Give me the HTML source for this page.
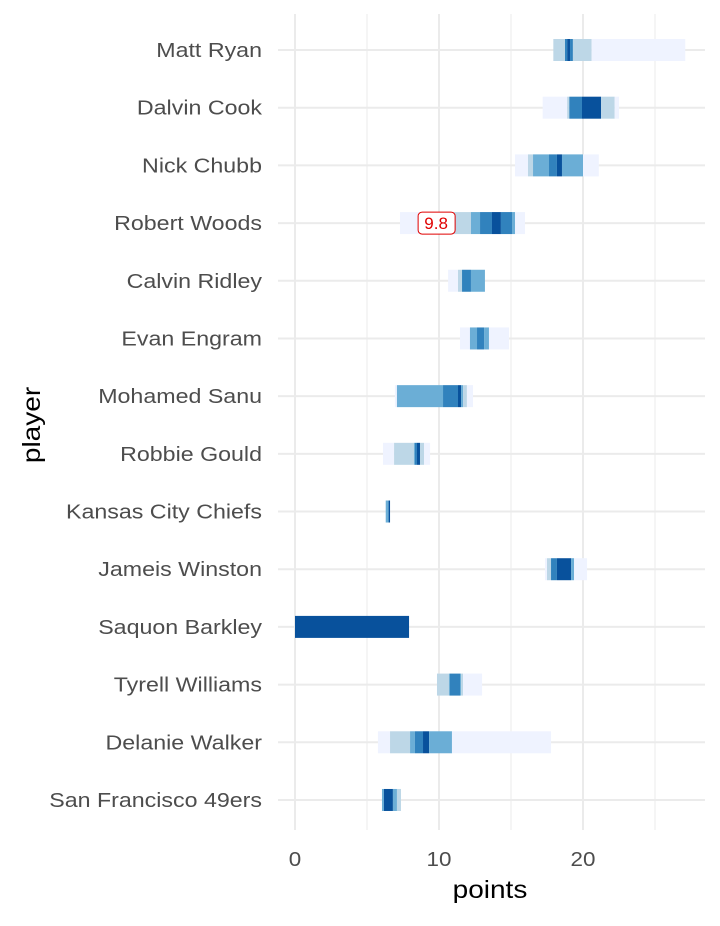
<!DOCTYPE html>
<html><head><meta charset="utf-8"><style>
body{margin:0;background:#fff;font-family:"Liberation Sans",Arial,sans-serif;}
</style></head><body>
<svg id="chart" width="720" height="921" xmlns="http://www.w3.org/2000/svg" font-family="Liberation Sans, Arial, sans-serif"></svg>
<script>
const players=["Matt Ryan","Dalvin Cook","Nick Chubb","Robert Woods","Calvin Ridley","Evan Engram","Mohamed Sanu","Robbie Gould","Kansas City Chiefs","Jameis Winston","Saquon Barkley","Tyrell Williams","Delanie Walker","San Francisco 49ers"];
const breaks=[
[17.94,18.75,18.9,19.1,19.3,20.6,27.1],
[17.2,18.9,19.05,19.93,21.25,22.2,22.5],
[15.28,16.18,16.53,17.64,18.19,18.54,20.0,21.1],
[7.29,10.95,12.22,12.85,13.68,14.3,15.07,15.28,15.97],
[10.63,11.32,11.6,12.22,13.19],
[11.46,12.15,12.64,13.13,13.47,14.86],
[6.94,7.08,10.28,11.32,11.53,11.67,11.94,12.36],
[6.11,6.88,8.26,8.33,8.47,8.68,8.96,9.38],
[6.3,6.5,6.6],
[17.36,17.5,17.78,18.19,19.17,19.38,20.28],
[0,7.92],
[9.86,10.69,10.76,11.46,11.53,11.67,12.99],
[5.76,6.6,7.99,8.33,8.89,9.31,10.9,17.78],
[6.04,6.18,6.8,7.08,7.36]];
const levels=[
[2,4,5,4,2,1],
[1,2,4,5,2,1],
[1,2,3,4,5,3,1],
[1,2,3,4,5,4,3,1],
[1,2,4,3],
[1,3,4,3,1],
[1,3,4,5,3,2,1],
[1,2,3,4,5,2,1],
[3,5],
[1,2,4,5,3,1],
[5],
[2,3,4,3,2,1],
[1,2,3,4,5,3,1],
[3,5,3,2]];
const xTicks=[0,10,20];
const labelValue=9.8, labelRow=3;
const colors={1:"#eff3ff",2:"#bdd7e7",3:"#6baed6",4:"#3182bd",5:"#08519c"};
const svg=document.getElementById('chart');
const NS="http://www.w3.org/2000/svg";
const x=v=>295+v*14.4;
const y=i=>50+i*57.69;
function mk(t,a){const e=document.createElementNS(NS,t);for(const k in a)e.setAttribute(k,a[k]);svg.appendChild(e);return e;}
function widen(t,f){const w=t.getComputedTextLength();t.setAttribute('textLength',w*f);t.setAttribute('lengthAdjust','spacingAndGlyphs');}
for(let v=5;v<=25;v+=10){const l=mk('line',{x1:x(v),x2:x(v),y1:14,y2:830,stroke:'#ebebeb','stroke-width':1});

}
for(const v of xTicks){const l=mk('line',{x1:x(v),x2:x(v),y1:14,y2:830,stroke:'#ebebeb','stroke-width':2});


const t=mk('text',{x:x(v),y:866,'text-anchor':'middle','font-size':20,fill:'#4d4d4d'});t.textContent=v;


widen(t,1.12);}
players.forEach((p,i)=>{
const l=mk('line',{x1:278,x2:705,y1:y(i),y2:y(i),stroke:'#ebebeb','stroke-width':2});


const t=mk('text',{x:262,y:y(i)+7,'text-anchor':'end','font-size':20,fill:'#4d4d4d'});t.textContent=p;


widen(t,1.16);
const b=breaks[i];
for(let k=0;k<b.length-1;k++){
const r=mk('rect',{x:x(b[k]),y:y(i)-11,width:Math.max(0.5,x(b[k+1])-x(b[k])),height:22,fill:colors[levels[i][k]]});

}
});
const lr=mk('rect',{x:x(labelValue)-18,y:y(labelRow)-11,width:37,height:22,rx:4,fill:'#fff',stroke:'#e00000','stroke-width':1});


const lt=mk('text',{x:x(labelValue),y:y(labelRow)+6,'text-anchor':'middle','font-size':17,fill:'#e00000'});lt.textContent=labelValue;


const xt=mk('text',{x:490,y:898,'text-anchor':'middle','font-size':25,fill:'#000'});xt.textContent='points';


widen(xt,1.12);
const yt=mk('text',{x:0,y:0,'text-anchor':'middle','font-size':25,fill:'#000',transform:'translate(40,425) rotate(-90)'});yt.textContent='player';


widen(yt,1.12);
</script>
</body></html>
